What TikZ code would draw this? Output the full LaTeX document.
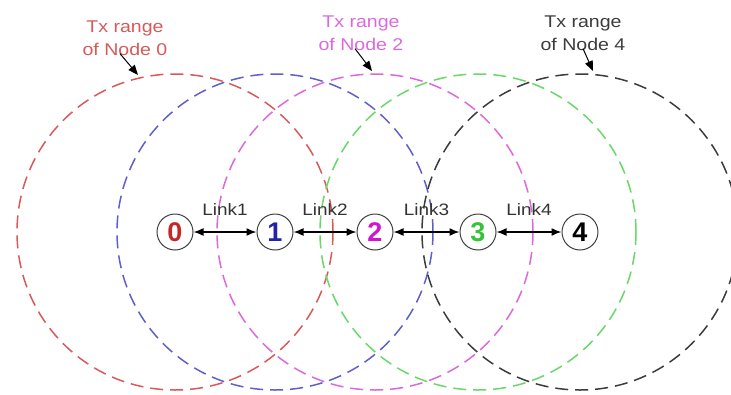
\documentclass[tikz,border=0pt]{standalone}
\usepackage{fontspec}
\setmainfont{Liberation Sans}
\newfontfamily\widesans[FakeStretch=1.15]{Liberation Sans}
\usetikzlibrary{arrows.meta}

% range circle colours
\definecolor{rangeRed}{RGB}{215,90,90}
\definecolor{rangeBlue}{RGB}{95,95,200}
\definecolor{rangePink}{RGB}{220,105,220}
\definecolor{rangeGreen}{RGB}{105,215,105}
\definecolor{rangeGray}{RGB}{60,60,60}
% node label colours
\definecolor{numRed}{RGB}{195,40,40}
\definecolor{numBlue}{RGB}{35,35,170}
\definecolor{numPink}{RGB}{210,20,210}
\definecolor{numGreen}{RGB}{55,195,55}

\tikzset{
  txrange/.style={line width=1.5pt, dash pattern=on 13pt off 7pt},
  station/.style={circle, draw=black!75, line width=1pt, fill=white,
    minimum size=36pt, inner sep=0pt,
    font=\fontsize{27}{27}\selectfont\bfseries},
  link/.style={{Latex[length=10pt,width=8pt]}-{Latex[length=10pt,width=8pt]},
    line width=1.5pt, black},
  linklabel/.style={midway, anchor=base, yshift=17pt,
    font=\widesans\fontsize{16.5}{16.5}\selectfont, text=black!80},
  rangelabel/.style={align=center, inner sep=0pt,
    font=\widesans\fontsize{17}{23}\selectfont},
  pointer/.style={-{Triangle[length=10pt,width=8pt]}, line width=1pt, black},
}

\begin{document}
\begin{tikzpicture}[x=1pt,y=-1pt]
  \useasboundingbox (0,0) rectangle (731,394);
  \clip (0,0) rectangle (731,394);

  % node positions
  \coordinate (c0) at (175,232);
  \coordinate (c1) at (275,232);
  \coordinate (c2) at (375,232);
  \coordinate (c3) at (478,232);
  \coordinate (c4) at (580,232);

  % transmission ranges
  \draw[txrange, rangeRed]   (c0) circle[radius=158];
  \draw[txrange, rangeBlue]  (c1) circle[radius=158];
  \draw[txrange, rangePink]  (c2) circle[radius=158];
  \draw[txrange, rangeGreen] (c3) circle[radius=158];
  \draw[txrange, rangeGray]  (c4) circle[radius=158];

  % stations
  \node[station, text=numRed]   (n0) at (c0) {0};
  \node[station, text=numBlue]  (n1) at (c1) {1};
  \node[station, text=numPink]  (n2) at (c2) {2};
  \node[station, text=numGreen] (n3) at (c3) {3};
  \node[station, text=black]    (n4) at (c4) {4};

  % links
  \draw[link] (n0) -- node[linklabel] {Link1} (n1);
  \draw[link] (n1) -- node[linklabel] {Link2} (n2);
  \draw[link] (n2) -- node[linklabel] {Link3} (n3);
  \draw[link] (n3) -- node[linklabel] {Link4} (n4);

  % range captions
  \node[rangelabel, text=rangeRed]  (l0) at (125,38) {Tx range\\of Node 0};
  \node[rangelabel, text=rangePink] (l2) at (361,33) {Tx range\\of Node 2};
  \node[rangelabel, text=rangeGray] (l4) at (583,33) {Tx range\\of Node 4};

  \coordinate (t0) at (138,75);
  \coordinate (t2) at (372,71);
  \coordinate (t4) at (593,71);
  \draw[pointer] ([xshift=-5pt,yshift=2pt]l0.south) -- (t0);
  \draw[pointer] ([xshift=-6pt,yshift=2pt]l2.south) -- (t2);
  \draw[pointer] ([xshift=0pt,yshift=2pt]l4.south) -- (t4);
\end{tikzpicture}
\end{document}
